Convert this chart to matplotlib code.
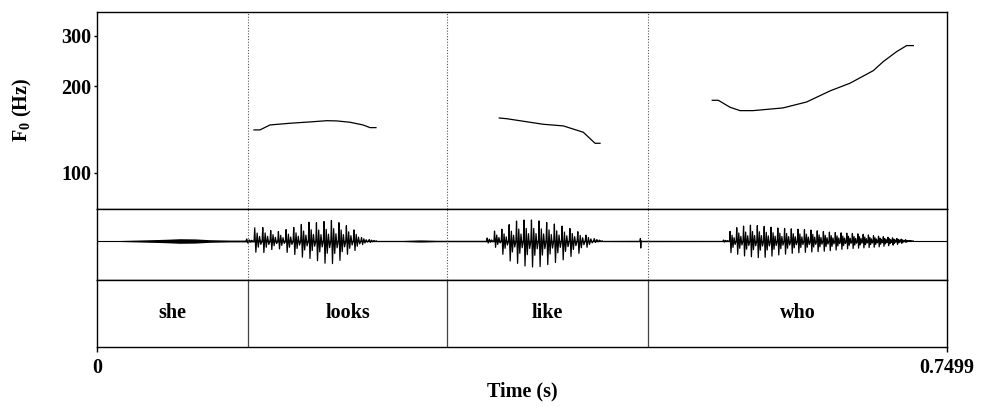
import numpy as np
import matplotlib
matplotlib.use("Agg")
import matplotlib.pyplot as plt
from matplotlib.ticker import FixedLocator, FixedFormatter, NullLocator

plt.rcParams['font.family'] = ['Liberation Serif', 'DejaVu Serif']
plt.rcParams['font.weight'] = 'bold'
plt.rcParams['mathtext.fontset'] = 'custom'
plt.rcParams['mathtext.rm'] = 'Liberation Serif:bold'
plt.rcParams['mathtext.bf'] = 'Liberation Serif:bold'
plt.rcParams['mathtext.it'] = 'Liberation Serif:italic:bold'

# ---- data -------------------------------------------------------------
T_END = 0.7499
words = ["she", "looks", "like", "who"]
word_bounds = [0.0, 0.1332, 0.3088, 0.4861, 0.7499]

f0_ticks = [100, 200, 300]
f0_range = (75, 362)

# pitch contours (s, Hz), one per voiced stretch
f0_looks_t = [0.1385, 0.1438, 0.1526, 0.1703, 0.1879, 0.2029, 0.2117, 0.2232, 0.2347, 0.2409, 0.2461]
f0_looks_hz = [141.1, 141.1, 146.8, 148.8, 150.4, 151.9, 151.6, 150.0, 146.8, 143.7, 143.7]
f0_like_t = [0.3549, 0.3615, 0.3820, 0.3937, 0.4114, 0.4290, 0.4394, 0.4438]
f0_like_hz = [155.2, 154.3, 150.0, 147.6, 145.7, 138.5, 126.8, 126.8]
f0_who_t = [0.5428, 0.5481, 0.5585, 0.5673, 0.5788, 0.6052, 0.6261, 0.6467, 0.6643,
            0.6849, 0.6937, 0.7055, 0.7143, 0.7202]
f0_who_hz = [178.8, 178.8, 169.1, 164.6, 164.6, 168.2, 176.4, 192.7, 204.9,
             226.6, 243.6, 263.8, 276.8, 276.8]

# waveform amplitude envelopes of the voiced stretches (relative units)
env_looks_t = [0.1315, 0.1374, 0.1445, 0.1512, 0.1579, 0.1650, 0.1718, 0.1785, 0.1850,
               0.1915, 0.1982, 0.2049, 0.2114, 0.2179, 0.2247, 0.2314, 0.2409]
env_looks_up = [2, 13, 14, 11, 9, 11, 13, 16, 19, 18, 19, 21, 19, 16, 13, 4, 1]
env_looks_dn = [2, 11, 12, 9, 7, 11, 13, 16, 17, 19, 22, 23, 21, 14, 11, 4, 1]

env_like_t = [0.3437, 0.3452, 0.3525, 0.3599, 0.3667, 0.3731, 0.3796, 0.3864, 0.3932,
              0.3996, 0.4061, 0.4129, 0.4202, 0.4261, 0.4349, 0.4408]
env_like_up = [3, 12, 9, 14, 19, 21, 21, 21, 19, 18, 16, 14, 11, 8, 4, 1]
env_like_dn = [2, 7, 6, 19, 21, 24, 26, 26, 25, 22, 21, 17, 14, 11, 2, 1]

env_who_t = [0.5523, 0.5558, 0.5629, 0.5702, 0.5775, 0.5849, 0.5996, 0.6143, 0.6290,
             0.6437, 0.6584, 0.6731, 0.6879, 0.7025, 0.7143, 0.7173]
env_who_up = [1, 8, 13, 15, 16, 15, 13, 12, 11, 9, 8, 7, 5, 3, 1, 0.3]
env_who_dn = [1, 11, 13, 15, 16, 17, 14, 12, 11, 10, 8, 7, 6, 4, 1, 0.3]

# aperiodic noise level along the whole file (relative units)
noise_t = [0.0, 0.0159, 0.0379, 0.0600, 0.0732, 0.0865, 0.0997, 0.1173, 0.1315,
           0.2409, 0.2700, 0.2850, 0.3000, 0.3437, 0.4408, 0.4700, 0.5523, 0.7173, 0.7499]
noise_amp = [0.2, 0.4, 1.0, 1.7, 2.3, 2.1, 1.3, 0.9, 0.9,
             0.6, 0.6, 1.1, 0.7, 0.7, 0.6, 0.7, 0.6, 0.4, 0.4]

# isolated transient
burst_t = [0.4797]
burst_up = [2.5]
burst_dn = [7.0]

wave_range = (-39, 32)

# ---- layout (figure fractions) -----------------------------------------
W, H = 981, 407
left = 97 / W
width = 850 / W


def ax_rect(top_px, bot_px):
    return [left, 1 - bot_px / H, width, (bot_px - top_px) / H]


fig = plt.figure(figsize=(W / 100, H / 100), dpi=100)
ax_f0 = fig.add_axes(ax_rect(12, 209))
ax_wav = fig.add_axes(ax_rect(209, 280))
ax_tg = fig.add_axes(ax_rect(280, 347))

for ax in (ax_f0, ax_wav, ax_tg):
    ax.set_xlim(0, T_END)
    for s in ax.spines.values():
        s.set_linewidth(1.0)
        s.set_color('black')
    ax.tick_params(which='both', bottom=False, left=False, labelbottom=False, labelleft=False)

# ---- pitch panel -------------------------------------------------------
ax_f0.set_yscale('log')
ax_f0.set_ylim(*f0_range)
ax_f0.yaxis.set_major_locator(FixedLocator(f0_ticks))
ax_f0.yaxis.set_major_formatter(FixedFormatter([str(v) for v in f0_ticks]))
ax_f0.yaxis.set_minor_locator(NullLocator())
ax_f0.tick_params(axis='y', which='major', left=True, labelleft=True, direction='out',
                  length=2.4, width=1.0, pad=2.0, labelsize=14.5)
for t, hz in ((f0_looks_t, f0_looks_hz), (f0_like_t, f0_like_hz), (f0_who_t, f0_who_hz)):
    ax_f0.plot(t, hz, color='black', lw=0.9)

# ---- waveform panel ----------------------------------------------------
pitch_t = np.array(f0_looks_t + f0_like_t + f0_who_t)
pitch_hz = np.array(f0_looks_hz + f0_like_hz + f0_who_hz)

# shape of one glottal cycle: main excursion followed by damped ringing
cycle_phase = np.array([0.0, 0.08, 0.22, 0.38, 0.52, 0.68, 0.84])
cycle_shape = np.array([0.0, 1.0, -1.0, 0.6, -0.55, 0.35, -0.3])


def voiced_trace(et, eup, edn):
    ts, ys = [], []
    t = et[0]
    while t < et[-1]:
        period = 1.0 / np.interp(t, pitch_t, pitch_hz)
        up = np.interp(t, et, eup)
        dn = np.interp(t, et, edn)
        for ph, v in zip(cycle_phase, cycle_shape):
            ts.append(t + ph * period)
            ys.append(v * (up if v > 0 else dn))
        t += period
    ts.append(t)
    ys.append(0.0)
    return np.array(ts), np.array(ys)


ax_wav.set_ylim(*wave_range)
nt = np.array(noise_t)
na = np.array(noise_amp)
ax_wav.fill_between(nt, -na, na, color='black', lw=0)
ax_wav.plot([0, T_END], [0, 0], color='black', lw=0.8)
for et, eu, ed in ((env_looks_t, env_looks_up, env_looks_dn),
                   (env_like_t, env_like_up, env_like_dn),
                   (env_who_t, env_who_up, env_who_dn)):
    ts, ys = voiced_trace(et, eu, ed)
    ax_wav.plot(ts, ys, color='black', lw=0.9)
for bt, bu, bd in zip(burst_t, burst_up, burst_dn):
    ax_wav.plot([bt - 0.0006, bt - 0.0003, bt, bt + 0.0004],
                [0, bu, -bd, 0], color='black', lw=0.9)

# ---- boundaries --------------------------------------------------------
for b in word_bounds[1:-1]:
    for ax in (ax_f0, ax_wav):
        ax.axvline(b, color='#555555', lw=0.8, ls=(0, (1, 1.5)))
    ax_tg.axvline(b, color='#444444', lw=0.9)

# ---- text grid ---------------------------------------------------------
ax_tg.set_ylim(0, 1)
for w, a, b in zip(words, word_bounds[:-1], word_bounds[1:]):
    ax_tg.text((a + b) / 2, 0.5, w, ha='center', va='center', fontsize=14.5,
               fontweight='bold')

ax_tg.xaxis.set_major_locator(FixedLocator([0, T_END]))
ax_tg.xaxis.set_major_formatter(FixedFormatter(["0", "0.7499"]))
ax_tg.tick_params(axis='x', bottom=True, labelbottom=True, direction='out',
                  length=3.6, width=1.0, pad=4.5, labelsize=14.5)

fig.text(522 / W, 1 - 391 / H, "Time (s)", ha='center', va='center', fontsize=14.5,
         fontweight='bold')
fig.text(22 / W, 1 - 110 / H, r"F$_\mathregular{0}$ (Hz)", ha='center', va='center',
         rotation=90, fontsize=14.5, fontweight='bold')

fig.savefig("out.png", dpi=100)
